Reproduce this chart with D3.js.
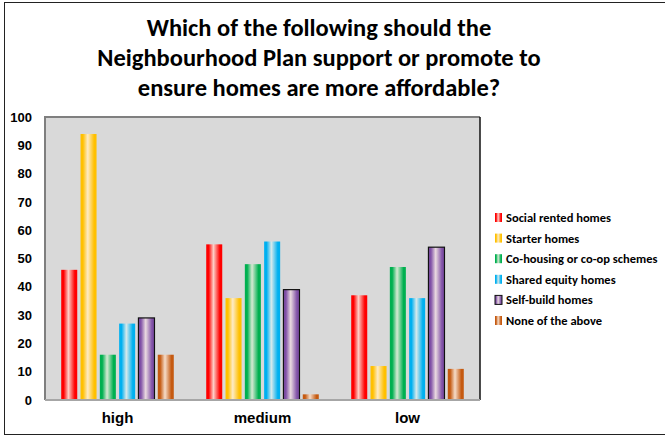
<!DOCTYPE html>
<html>
<head>
<meta charset="utf-8">
<script src="https://cdn.jsdelivr.net/npm/d3@7"></script>
<style>
  body { margin: 0; background: #fff; }
  svg { display: block; font-family: Carlito, Calibri, Lato, "Open Sans", sans-serif; }
  .tick-label { font-weight: 700; font-size: 13px; fill: #000; }
  .cat-label { font-weight: 700; font-size: 15px; fill: #000; }
  .legend-label { font-weight: 700; font-size: 12.5px; fill: #000; }
  .title { font-weight: 700; font-size: 24.5px; fill: #000; }
</style>
</head>
<body>
<div id="chart"></div>
<script>
const titleLines = [
  "Which of the following should the",
  "Neighbourhood Plan support or promote to",
  "ensure homes are more affordable?"
];
const categories = ["high", "medium", "low"];
const seriesNames = [
  "Social rented homes",
  "Starter homes",
  "Co-housing or co-op schemes",
  "Shared equity homes",
  "Self-build homes",
  "None of the above"
];
const seriesColors = ["#ff0000", "#ffc000", "#00b050", "#00b0f0", "#7f4fa6", "#c55a11"];
// values per series, in the order of categories
const socialRented = [46, 55, 37];
const starter = [94, 36, 12];
const coHousing = [16, 48, 47];
const sharedEquity = [27, 56, 36];
const selfBuild = [29, 39, 54];
const noneAbove = [16, 2, 11];
const yTicks = [0, 10, 20, 30, 40, 50, 60, 70, 80, 90, 100];

const seriesValues = [socialRented, starter, coHousing, sharedEquity, selfBuild, noneAbove];

const W = 665, H = 437;
const margin = { top: 117, right: 185, bottom: 37, left: 45 };
const width = W - margin.left - margin.right;
const height = H - margin.top - margin.bottom;

const svg = d3.select("#chart").append("svg")
  .attr("width", W)
  .attr("height", H);

// gradients for the bars
const defs = svg.append("defs");
seriesColors.forEach((c, i) => {
  const light = d3.interpolateRgb(c, "#fdf3ea")(0.85);
  const grad = defs.append("linearGradient")
    .attr("id", "grad-" + i)
    .attr("x1", "0%").attr("x2", "100%")
    .attr("y1", "0%").attr("y2", "0%");
  grad.append("stop").attr("offset", "0%").attr("stop-color", c);
  grad.append("stop").attr("offset", "15%").attr("stop-color", c);
  grad.append("stop").attr("offset", "45%").attr("stop-color", light);
  grad.append("stop").attr("offset", "85%").attr("stop-color", c);
  grad.append("stop").attr("offset", "100%").attr("stop-color", c);
});

// outer frame
svg.append("rect")
  .attr("x", 4.5).attr("y", 2.5)
  .attr("width", 700).attr("height", 432)
  .attr("fill", "none")
  .attr("stroke", "#222")
  .attr("stroke-width", 1);

// title
svg.append("text")
  .attr("class", "title")
  .attr("text-anchor", "middle")
  .selectAll("tspan")
  .data(titleLines)
  .enter()
  .append("tspan")
  .attr("x", 319)
  .attr("y", (d, i) => 36 + i * 30)
  .text(d => d);

const g = svg.append("g")
  .attr("transform", "translate(" + margin.left + "," + margin.top + ")");

const x0 = d3.scaleBand().domain(categories).range([0, width]);
const x1 = d3.scaleBand().domain(d3.range(seriesNames.length))
  .range([0, x0.bandwidth()])
  .paddingInner(0.17)
  .paddingOuter(0.84);
const y = d3.scaleLinear().domain([0, 100]).range([height, 0]);

// plot area
g.append("rect")
  .attr("width", width)
  .attr("height", height)
  .attr("fill", "#d9d9d9");
g.append("path")
  .attr("d", `M0,${height}V0H${width}`)
  .attr("fill", "none")
  .attr("stroke", "#7f7f7f")
  .attr("stroke-width", 2);
g.append("line")
  .attr("x1", width).attr("x2", width)
  .attr("y1", 0).attr("y2", height)
  .attr("stroke", "#111")
  .attr("stroke-width", 1.5);

// y axis labels
const yAxis = g.append("g")
  .call(d3.axisLeft(y).tickValues(yTicks).tickSize(0).tickPadding(13));
yAxis.select(".domain").remove();
yAxis.selectAll("text")
  .attr("class", "tick-label")
  .attr("font-family", null)
  .attr("font-size", null);

// bars
const groups = g.selectAll(".cat")
  .data(categories)
  .enter()
  .append("g")
  .attr("class", "cat")
  .attr("transform", d => "translate(" + x0(d) + ",0)");

groups.selectAll("rect")
  .data((d, ci) => seriesValues.map((vals, si) => ({ si, v: vals[ci] })))
  .enter()
  .append("rect")
  .attr("class", "bar")
  .attr("x", d => x1(d.si))
  .attr("y", d => y(d.v))
  .attr("width", x1.bandwidth())
  .attr("height", d => height - y(d.v))
  .attr("fill", d => "url(#grad-" + d.si + ")")
  .attr("stroke", d => d.si === 4 ? "#111" : "none")
  .attr("stroke-width", 1.2);

// baseline
g.append("line")
  .attr("x1", 0).attr("x2", width)
  .attr("y1", height).attr("y2", height)
  .attr("stroke", "#a6a6a6")
  .attr("stroke-width", 2);

// x axis labels
const xAxis = g.append("g")
  .attr("transform", "translate(0," + height + ")")
  .call(d3.axisBottom(x0).tickSize(0).tickPadding(12));
xAxis.select(".domain").remove();
xAxis.selectAll("text")
  .attr("class", "cat-label")
  .attr("font-family", null)
  .attr("font-size", null);

// legend
const legend = svg.append("g")
  .attr("transform", "translate(495,213)");
const item = legend.selectAll(".item")
  .data(seriesNames)
  .enter()
  .append("g")
  .attr("class", "item")
  .attr("transform", (d, i) => "translate(0," + i * 20.6 + ")");
item.append("rect")
  .attr("width", 7)
  .attr("height", 9)
  .attr("fill", (d, i) => "url(#grad-" + i + ")")
  .attr("stroke", (d, i) => i === 4 ? "#111" : "none")
  .attr("stroke-width", 1);
item.append("text")
  .attr("class", "legend-label")
  .attr("x", 11)
  .attr("y", 9)
  .text(d => d);
</script>
</body>
</html>
